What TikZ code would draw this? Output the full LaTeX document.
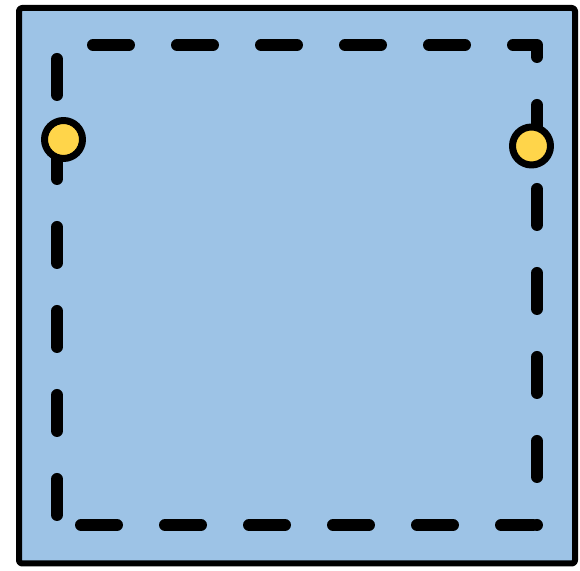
\documentclass[tikz,border=0pt]{standalone}
\usepackage{xcolor}
\usepackage{tikz}
\definecolor{plSheet}{HTML}{9DC3E6}
\definecolor{plInk}{HTML}{000000}
\definecolor{plPin}{HTML}{FFD54A}
\tikzset{
  pl plan/.style={x=0.5pt, y=-0.5pt, line cap=round, line join=round},
  pl sheet/.style={draw=plInk, fill=plSheet, line width=3pt,
    rounded corners=1.5pt},
  pl seam/.style={draw=plInk, line width=6pt,
    dash pattern=on 18pt off 24pt},
  pl pin/.style={circle, draw=plInk, fill=plPin, line width=3.5pt,
    inner sep=0pt, minimum size=19pt}
}
\begin{document}
\begin{tikzpicture}[pl plan]
\useasboundingbox (0,0) rectangle (580,571);
\draw[pl sheet] (19,8) rectangle (575,563.5);
% stitched seam, three runs
\draw[pl seam] (57,59) -- (57,525);
\draw[pl seam] (93,45) -- (537,45) -- (537,525);
\draw[pl seam] (81,525) -- (533,525);
% pins
\node[pl pin] (pinL) at (63.5,139.5) {};
\node[pl pin] (pinR) at (531.5,146) {};
\end{tikzpicture}
\end{document}
